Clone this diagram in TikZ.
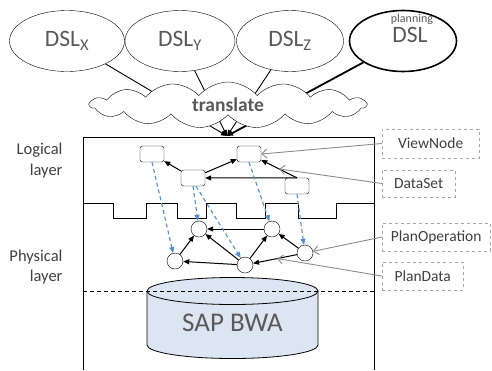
\documentclass[tikz,border=0pt]{standalone}
\usepackage{fontspec}
\setmainfont{Carlito}
\usetikzlibrary{arrows.meta,shapes.geometric,shapes.symbols,calc}
\definecolor{txtgray}{HTML}{595959}
\definecolor{lblgray}{HTML}{404040}
\definecolor{notegray}{HTML}{A6A6A6}
\definecolor{ptrgray}{HTML}{8C8C8C}
\definecolor{mapblue}{HTML}{558ED5}
\definecolor{bwafill}{HTML}{DCE6F2}

\begin{document}
\begin{tikzpicture}[x=1pt,y=-1pt,
    dsl/.style={draw,ellipse,minimum height=61,inner sep=0pt,text=txtgray,font=\fontsize{23.5}{23.5}\selectfont},
    lognode/.style={draw,rounded corners=2.5pt,minimum width=24,minimum height=16,inner sep=0pt,fill=white},
    physnode/.style={draw,circle,minimum size=16,inner sep=0pt,fill=white},
    flow/.style={line width=1pt,-{Triangle[length=6pt,width=5pt]}},
    mapping/.style={mapblue,line width=1.1pt,dash pattern=on 4pt off 3pt,-{Triangle[length=6pt,width=5pt]}},
    note/.style={draw=notegray,dashed,anchor=west,minimum height=28,inner sep=0pt,text=lblgray,font=\fontsize{15.5}{15.5}\selectfont},
    pointer/.style={ptrgray,line width=0.9pt,-{Straight Barb[length=5pt,width=9pt]}},
    layer/.style={align=right,anchor=east,text=lblgray,font=\fontsize{16.5}{20.5}\selectfont}]
  \useasboundingbox (0,0) rectangle (492,370);

  % DSLs and translation
  \node[dsl,minimum width=115] (dslX) at (67,41) {DSL\textsubscript{X}};
  \node[dsl,minimum width=110] (dslY) at (180,41) {DSL\textsubscript{Y}};
  \node[dsl,minimum width=107] (dslZ) at (290,41) {DSL\textsubscript{Z}};
  \node[dsl,minimum width=107,line width=1.6pt] (dslP) at (403,41) {};
  \node[text=txtgray,font=\fontsize{23.5}{23.5}\selectfont] (dslPname) at (410,35) {DSL};
  \node[text=txtgray,font=\fontsize{12}{12}\selectfont] (dslPtop) at (412,19.5) {planning};
  \coordinate (entry) at (227,136);
  \draw[flow,line width=0.9pt] (dslX) -- (entry);
  \draw[flow,line width=0.9pt] (dslY) -- (entry);
  \draw[flow,line width=0.9pt] (dslZ) -- (entry);
  \draw[flow,line width=1.8pt] (dslP) -- (entry);
  \node[cloud,draw,fill=white,cloud puffs=15,cloud puff arc=100,cloud ignores aspect,
        minimum width=276,minimum height=46,inner sep=0pt,text=txtgray,
        font=\bfseries\fontsize{19.5}{19.5}\selectfont] (translate) at (228,105) {translate};

  % layers
  \draw[line width=0.8pt] (83,370) -- (83,137) -- (374,137) -- (374,370);
  \draw[line width=0.9pt] (83,203) -- (113,203) -- (113,218) -- (146,218) -- (146,203)
    -- (177,203) -- (177,218) -- (206,218) -- (206,203) -- (236,203) -- (236,218)
    -- (265,218) -- (265,203) -- (298,203) -- (298,218) -- (336,218) -- (336,203) -- (374,203);
  \node[layer] (logical) at (66,160.5) {Logical\\layer};
  \node[layer] (physical) at (66,267) {Physical\\layer};

  % database
  \fill[bwafill] (147,291) -- (147,345) arc[start angle=180,end angle=0,x radius=85.5,y radius=13.5]
    -- (318,291) -- cycle;
  \draw[line width=0.8pt] (147,291) -- (147,345) arc[start angle=180,end angle=0,x radius=85.5,y radius=13.5]
    -- (318,291);
  \draw[line width=0.8pt,fill=bwafill] (232.5,291) ellipse[x radius=85.5,y radius=13.5];
  \node[text=txtgray,font=\fontsize{27}{27}\selectfont] (bwa) at (232.5,323) {SAP BWA};
  \draw[line width=0.8pt,dash pattern=on 4pt off 3pt] (83,291) -- (374,291);

  % logical plan
  \node[lognode] (lgA) at (152,154) {};
  \node[lognode] (lgB) at (249,154) {};
  \node[lognode] (lgC) at (193,178) {};
  \node[lognode] (lgD) at (297,186) {};
  \draw[flow] (lgC) -- (lgA);
  \draw[flow] (lgC) -- (lgB);
  \draw[flow] (lgD.north) -- (lgC);
  \draw[flow] (lgD.north) -- coordinate[pos=.5] (dsEdge) (lgB);

  % physical plan
  \node[physnode] (phA) at (199,229) {};
  \node[physnode] (phB) at (272,229) {};
  \node[physnode] (phC) at (175,261) {};
  \node[physnode] (phD) at (245,265) {};
  \node[physnode] (phE) at (305,253) {};
  \draw[flow] (phB) -- (phA);
  \draw[flow] (phC) -- (phA);
  \draw[flow] (phD) -- (phA);
  \draw[flow] (phD) -- (phC);
  \draw[flow] (phD) -- (phB);
  \draw[flow] (phE) -- (phB);
  \draw[flow] (phE) -- coordinate[pos=.45] (pdEdge) (phD);

  % mapping logical -> physical
  \draw[mapping] (lgA.south) -- (phC);
  \draw[mapping] (lgC.south) -- (phA);
  \draw[mapping] (lgC.-70) -- (phD);
  \draw[mapping] (lgB.south) -- (phB);
  \draw[mapping] (lgD.south) -- (phE);

  % annotations
  \node[note,minimum width=97,minimum height=29] (nView) at (382,143.5) {ViewNode};
  \node[note,minimum width=73,minimum height=27] (nSet) at (382,183.5) {DataSet};
  \node[note,minimum width=108] (nOp) at (382,237) {PlanOperation};
  \node[note,minimum width=81] (nData) at (382,276) {PlanData};
  \draw[pointer] (nView.west) -- (lgB.east);
  \draw[pointer] (nSet.west) -- (dsEdge);
  \draw[pointer] (nOp.west) -- (phE);
  \draw[pointer] (nData.west) -- (pdEdge);
\end{tikzpicture}
\end{document}
